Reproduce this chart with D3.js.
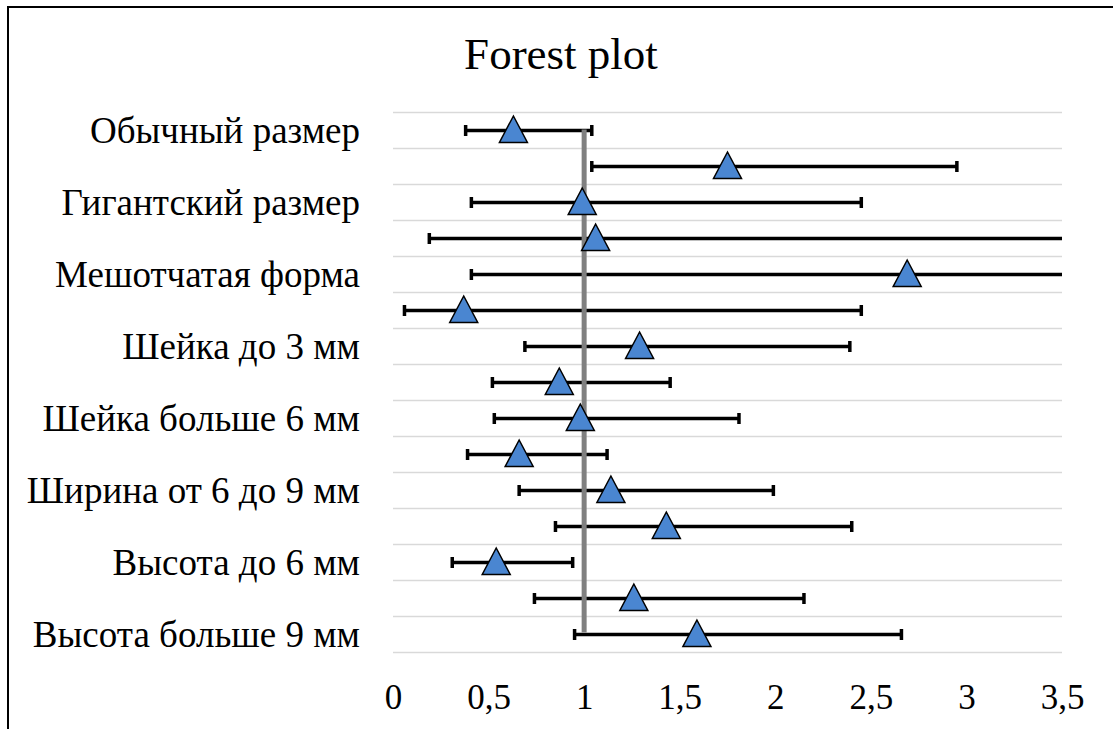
<!DOCTYPE html>
<html lang="ru">
<head>
    <meta charset="UTF-8">
    <title>Forest plot</title>
    <script src="https://cdnjs.cloudflare.com/ajax/libs/d3/7.8.5/d3.min.js"></script>
    <style>
        body { margin: 0; background: #fff; }
        text { font-family: "Liberation Serif", "Times New Roman", serif; fill: #000; }
    </style>
</head>
<body>
    <div id="chart"></div>

    <script>
        // Rows, top to bottom (Excel shows only every second label)
        const rowLabels = [
            "Обычный размер", "",
            "Гигантский размер", "",
            "Мешотчатая форма", "",
            "Шейка до 3 мм", "",
            "Шейка больше 6 мм", "",
            "Ширина от 6 до 9 мм", "",
            "Высота до 6 мм", "",
            "Высота больше 9 мм"
        ];
        const oddsRatio = [0.63, 1.75, 0.99, 1.06, 2.69, 0.37, 1.29, 0.87, 0.98, 0.66, 1.14, 1.43, 0.54, 1.26, 1.59];
        const ciLower   = [0.38, 1.04, 0.41, 0.19, 0.41, 0.06, 0.69, 0.52, 0.53, 0.39, 0.66, 0.85, 0.31, 0.74, 0.95];
        const ciUpper   = [1.04, 2.95, 2.45, 4.20, 6.00, 2.45, 2.39, 1.45, 1.81, 1.12, 1.99, 2.40, 0.94, 2.15, 2.66];
        const xTicks = [0, 0.5, 1, 1.5, 2, 2.5, 3, 3.5];
        const refValue = 1;

        const W = 1113, H = 729;
        const plot = {left: 393, right: 1062, top: 112.5, bottom: 652.5};

        const svg = d3.select("#chart").append("svg")
            .attr("width", W)
            .attr("height", H);

        // chart border (runs off the right and bottom edges)
        svg.append("rect")
            .attr("x", 8).attr("y", 7)
            .attr("width", W + 20).attr("height", H + 20)
            .attr("fill", "none")
            .attr("stroke", "#000")
            .attr("stroke-width", 2);

        const rows = d3.range(rowLabels.length);

        const x = d3.scaleLinear()
            .domain([0, 3.5])
            .range([plot.left, plot.right]);

        const y = d3.scaleBand()
            .domain(rows)
            .range([plot.top, plot.bottom]);

        const cy = i => y(i) + y.bandwidth() / 2;

        // title
        svg.append("text")
            .attr("x", 561)
            .attr("y", 69)
            .attr("text-anchor", "middle")
            .style("font-size", "45px")
            .text("Forest plot");

        // horizontal gridlines between rows
        const gridYs = rows.map(i => y(i)).concat([plot.bottom]);
        svg.append("g")
            .selectAll("line")
            .data(gridYs)
            .join("line")
            .attr("x1", plot.left)
            .attr("x2", plot.right)
            .attr("y1", d => d)
            .attr("y2", d => d)
            .attr("stroke", "#d9d9d9")
            .attr("stroke-width", 1.5);

        // x axis labels only, no axis line
        const xAxis = svg.append("g")
            .attr("transform", `translate(0,${plot.bottom})`)
            .call(d3.axisBottom(x)
                .tickValues(xTicks)
                .tickSize(0)
                .tickPadding(0)
                .tickFormat(d => String(d).replace(".", ",")));
        xAxis.select(".domain").remove();
        xAxis.selectAll("text")
            .style("font-size", "35px")
            .attr("font-family", null)
            .attr("y", 56)
            .attr("dy", null);

        // y axis labels
        const yAxis = svg.append("g")
            .attr("transform", `translate(${plot.left},0)`)
            .call(d3.axisLeft(y)
                .tickSize(0)
                .tickPadding(33)
                .tickFormat(i => rowLabels[i]));
        yAxis.select(".domain").remove();
        yAxis.selectAll("text")
            .style("font-size", "37px")
            .attr("font-family", null)
            .attr("dy", "0.35em");

        // clip error bars to the plot area
        svg.append("clipPath")
            .attr("id", "plot-clip")
            .append("rect")
            .attr("x", plot.left)
            .attr("y", plot.top - 20)
            .attr("width", plot.right - plot.left)
            .attr("height", plot.bottom - plot.top + 40);

        const bars = svg.append("g").attr("clip-path", "url(#plot-clip)");

        bars.selectAll("line.ci")
            .data(rows)
            .join("line")
            .attr("class", "ci")
            .attr("x1", i => x(ciLower[i]))
            .attr("x2", i => x(ciUpper[i]))
            .attr("y1", cy)
            .attr("y2", cy)
            .attr("stroke", "#000")
            .attr("stroke-width", 3.5);

        const caps = rows.flatMap(i => [ciLower[i], ciUpper[i]].map(v => ({i, v})));
        bars.selectAll("line.cap")
            .data(caps)
            .join("line")
            .attr("class", "cap")
            .attr("x1", d => x(d.v))
            .attr("x2", d => x(d.v))
            .attr("y1", d => cy(d.i) - 5.5)
            .attr("y2", d => cy(d.i) + 5.5)
            .attr("stroke", "#000")
            .attr("stroke-width", 3.5);

        // reference line at OR = 1
        svg.append("line")
            .attr("x1", x(refValue))
            .attr("x2", x(refValue))
            .attr("y1", cy(0) - 1)
            .attr("y2", cy(rows.length - 1) - 2)
            .attr("stroke", "#808080")
            .attr("stroke-width", 5);

        // point estimates
        const tri = "M0,-13.5L14,13L-14,13Z";
        svg.append("g")
            .selectAll("path")
            .data(rows)
            .join("path")
            .attr("d", tri)
            .attr("transform", i => `translate(${x(oddsRatio[i])},${cy(i) - 1})`)
            .attr("fill", "#4a86d1")
            .attr("stroke", "#000")
            .attr("stroke-width", 1.5)
            .attr("stroke-linejoin", "miter");
    </script>
</body>
</html>
